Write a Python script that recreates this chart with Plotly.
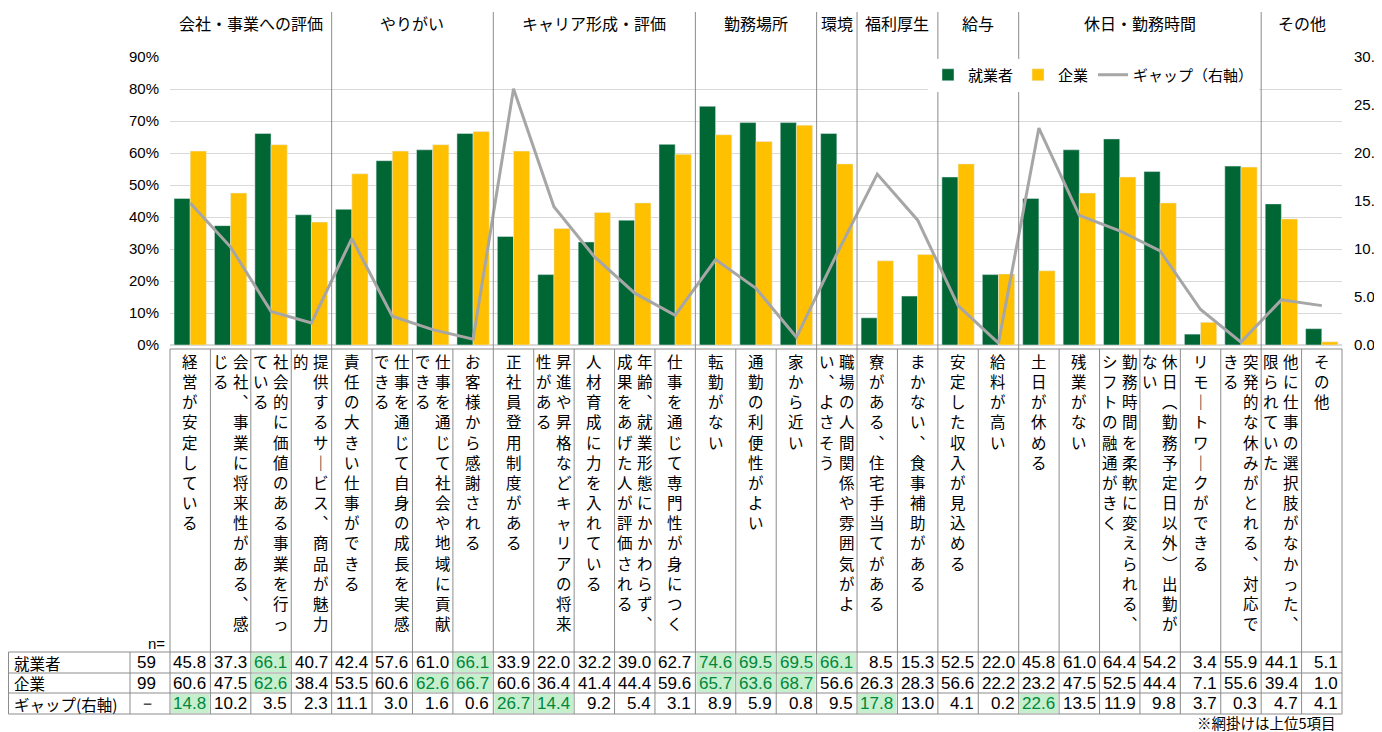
import plotly.graph_objects as go

# categories (explicit "\n" = column wrap as in the original sheet)
categories = [
    "経営が安定している",
    "会社、事業に将来性がある、感\nじる",
    "社会的に価値のある事業を行っ\nている",
    "提供するサービス、商品が魅力\n的",
    "責任の大きい仕事ができる",
    "仕事を通じて自身の成長を実感\nできる",
    "仕事を通じて社会や地域に貢献\nできる",
    "お客様から感謝される",
    "正社員登用制度がある",
    "昇進や昇格などキャリアの将来\n性がある",
    "人材育成に力を入れている",
    "年齢、就業形態にかかわらず、\n成果をあげた人が評価される",
    "仕事を通じて専門性が身につく",
    "転勤がない",
    "通勤の利便性がよい",
    "家から近い",
    "職場の人間関係や雰囲気がよ\nい、よさそう",
    "寮がある、住宅手当てがある",
    "まかない、食事補助がある",
    "安定した収入が見込める",
    "給料が高い",
    "土日が休める",
    "残業がない",
    "勤務時間を柔軟に変えられる、\nシフトの融通がきく",
    "休日（勤務予定日以外）出勤が\nない",
    "リモートワークができる",
    "突発的な休みがとれる、対応で\nきる",
    "他に仕事の選択肢がなかった、\n限られていた",
    "その他",
]
groups = ["会社・事業への評価", "やりがい", "キャリア形成・評価", "勤務場所", "環境",
          "福利厚生", "給与", "休日・勤務時間", "その他"]
group_sizes = [4, 4, 5, 3, 1, 2, 2, 6, 2]

workers = [45.8, 37.3, 66.1, 40.7, 42.4, 57.6, 61.0, 66.1, 33.9, 22.0, 32.2, 39.0, 62.7,
           74.6, 69.5, 69.5, 66.1, 8.5, 15.3, 52.5, 22.0, 45.8, 61.0, 64.4, 54.2, 3.4,
           55.9, 44.1, 5.1]
companies = [60.6, 47.5, 62.6, 38.4, 53.5, 60.6, 62.6, 66.7, 60.6, 36.4, 41.4, 44.4, 59.6,
             65.7, 63.6, 68.7, 56.6, 26.3, 28.3, 56.6, 22.2, 23.2, 47.5, 52.5, 44.4, 7.1,
             55.6, 39.4, 1.0]
gap = [14.8, 10.2, 3.5, 2.3, 11.1, 3.0, 1.6, 0.6, 26.7, 14.4, 9.2, 5.4, 3.1, 8.9, 5.9,
       0.8, 9.5, 17.8, 13.0, 4.1, 0.2, 22.6, 13.5, 11.9, 9.8, 3.7, 0.3, 4.7, 4.1]

row_names = ["就業者", "企業", "ギャップ(右軸)"]
n_values = ["59", "99", "－"]

GREEN = "#006633"
YELLOW = "#FFC000"
GRAY = "#A6A6A6"
LINE = "#8c8c8c"
JP = "Noto Sans CJK JP"
NUM = "Liberation Sans Narrow, Arial Narrow, Liberation Sans, sans-serif"

# screen-pixel frame (page body has an 8px margin)
SW, SH, OFF = 1382, 732, 8
L, R, T, B = 170, 1342, 57, 345
ncol = len(categories)
cw = (R - L) / ncol


def px(x):
    return (x - L) / (R - L)


def py(y):
    return (B - y) / (B - T)


def cx(i):
    return L + cw * (i + 0.5)


VERT = {"、": "︑", "（": "︵", "）": "︶", "ー": "｜"}


def vert(s):
    return "<br>".join(VERT.get(c, c) for c in s)


x = list(range(ncol))
fig = go.Figure()
fig.add_trace(go.Bar(x=x, y=workers, name="就業者", marker_color=GREEN))
fig.add_trace(go.Bar(x=x, y=companies, name="企業", marker_color=YELLOW))
fig.add_trace(go.Scatter(x=x, y=gap, name="ギャップ（右軸）", yaxis="y2", mode="lines",
                         line=dict(color=GRAY, width=3)))

shapes = []
ann = []


def text(xp, yp, s, size, family=JP, xa="center", ya="middle", color="#000", align="center"):
    ann.append(dict(xref="paper", yref="paper", x=px(xp), y=py(yp), xanchor=xa, yanchor=ya,
                    text=s, showarrow=False, align=align,
                    font=dict(family=family, size=size, color=color)))


def hline(y, x0, x1):
    shapes.append(dict(type="line", xref="paper", yref="paper", x0=px(x0), x1=px(x1),
                       y0=py(y), y1=py(y), line=dict(color=LINE, width=1)))


def vline(x_, y0, y1):
    shapes.append(dict(type="line", xref="paper", yref="paper", x0=px(x_), x1=px(x_),
                       y0=py(y0), y1=py(y1), line=dict(color=LINE, width=1)))


# group headers + separators
start = 0
for g, n in zip(groups, group_sizes):
    text((L + cw * start + L + cw * (start + n)) / 2, 23, g, 16)
    start += n
    if start < ncol:
        vline(L + cw * start, 12, 349)

# category label boxes (vertical text)
hline(349, L, R)
for i in range(ncol + 1):
    vline(L + cw * i, 349, 652)
for i, c in enumerate(categories):
    cols = c.split("\n")
    offs = [0] if len(cols) == 1 else [10, -10]
    for txt, o in zip(cols, offs):
        text(cx(i) + o, 348, vert(txt), 15.5, ya="top")

text(167, 643, "n=", 15, family=NUM, xa="right")

# data table
rows_y = [652, 673, 693, 714]
for y in rows_y:
    hline(y, 8.5, R)
for x_ in [8.5, 130]:
    vline(x_, 652, 714)
for i in range(ncol + 1):
    vline(L + cw * i, 652, 714)

table = [workers, companies, gap]
for r, vals in enumerate(table):
    ymid = (rows_y[r] + rows_y[r + 1]) / 2
    thr = sorted(vals, reverse=True)[4]
    text(12, ymid, row_names[r], 15.5, xa="left")
    text(158, ymid, n_values[r], 17, family=NUM, xa="right")
    for i, v in enumerate(vals):
        top = v >= thr
        if top:
            shapes.append(dict(type="rect", xref="paper", yref="paper",
                               x0=px(L + cw * i + 1), x1=px(L + cw * (i + 1) - 1),
                               y0=py(rows_y[r] + 1), y1=py(rows_y[r + 1] - 1),
                               fillcolor="#C6EFCE", line=dict(width=0), layer="below"))
        text(L + cw * (i + 1) - 2, ymid, f"{v:.1f}", 17, family=NUM, xa="right",
             color="#00873C" if top else "#000")

text(1338, 722.5, "※網掛けは上位5項目", 14.5, xa="right")

FW, FH = SW - OFF, SH - OFF
fig.update_layout(
    width=FW, height=FH, autosize=False,
    margin=dict(l=L - OFF, r=FW - (R - OFF), t=T - OFF, b=FH - (B - OFF), pad=0,
                autoexpand=False),
    paper_bgcolor="white", plot_bgcolor="white",
    barmode="group", bargap=0.2, bargroupgap=0,
    font=dict(family=JP, size=15, color="#000"),
    xaxis=dict(range=[-0.5, ncol - 0.5], showticklabels=False, showgrid=False,
               zeroline=False, showline=False, fixedrange=True, automargin=False),
    yaxis=dict(range=[0, 90], dtick=10, ticksuffix="%", showgrid=True, gridcolor="#D9D9D9",
               zeroline=True, zerolinecolor="#D9D9D9", ticks="", ticklabelstandoff=10,
               automargin=False, tickfont=dict(family=NUM, size=15, color="#000")),
    yaxis2=dict(range=[0, 30], dtick=5, tickformat=".1f", overlaying="y", side="right",
                showgrid=False, zeroline=False, ticks="", ticklabelstandoff=11,
                automargin=False, tickfont=dict(family=NUM, size=15, color="#000")),
    legend=dict(orientation="h", x=px(928), y=py(75), xanchor="left", yanchor="middle",
                bgcolor="white", font=dict(family=JP, size=15, color="#000"),
                itemwidth=30, traceorder="normal"),
    shapes=shapes,
    annotations=ann,
)

fig.write_html("out.html")
